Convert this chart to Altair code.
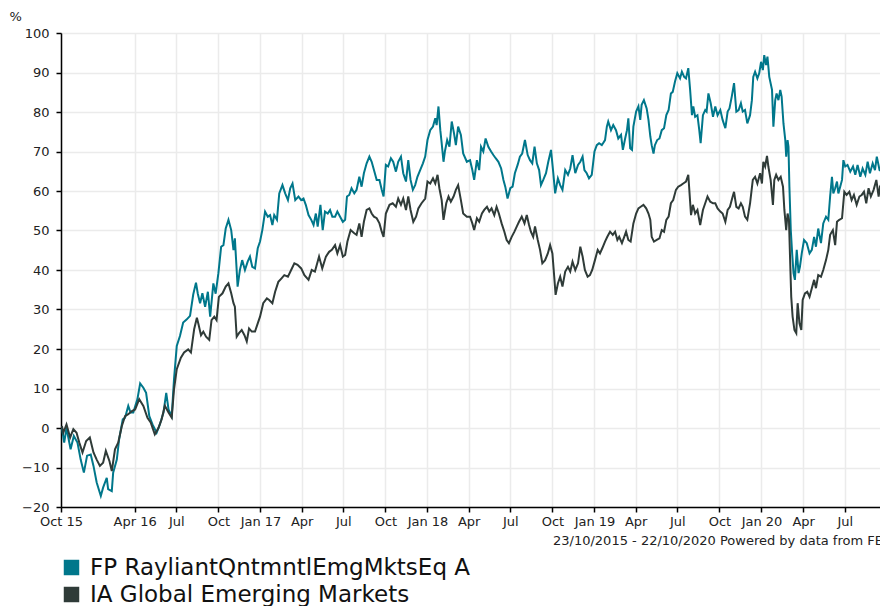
import altair as alt
import pandas as pd

START = "2015-10-23"
SERIES = ["FP RayliantQntmntlEmgMktsEq A", "IA Global Emerging Markets"]
COLORS = ["#00778B", "#2F3B38"]

# days since 23/10/2015 and cumulative % growth
fund_days = [
    2, 7, 12, 21, 28, 36, 43, 50, 57, 65, 71, 78, 87, 92, 100, 103, 111, 114, 122, 127,
    135, 140, 147, 152, 158, 167, 173, 180, 186, 193, 200, 209, 216, 224, 230, 235, 242, 247, 253, 260,
    267, 275, 282, 289, 295,
    299, 304, 309, 315, 321, 326, 333, 338, 344, 350, 355, 360, 366, 372, 377, 380, 386, 391, 396, 402,
    408, 413, 418, 424, 430, 435, 440, 446, 452, 457, 462, 466, 472, 477, 484, 490, 496, 501, 506, 512,
    519, 525, 530, 535, 541, 547, 552, 557, 561, 567, 572, 577, 583, 588, 593,
    599, 604, 610, 616, 621, 625, 630, 635, 641, 646, 652, 657, 662, 668, 674, 679, 684, 690, 696, 701,
    705, 710, 715, 721, 726, 732, 737, 743, 748, 754, 759, 764, 769, 774, 779, 785, 791, 796, 801, 807,
    813, 818, 821, 825, 829, 832, 836, 839, 844, 849, 854, 859, 863, 868, 874, 879, 887,
    894, 899, 903, 909, 914, 918, 923, 928, 934, 940, 945, 950, 956, 962, 967, 971, 976, 982, 987, 992,
    998, 1003, 1008, 1014, 1020, 1025, 1030, 1035, 1040, 1045, 1049, 1054, 1060, 1065, 1071, 1076, 1080,
    1086, 1091, 1096, 1102, 1108, 1113, 1118, 1124, 1130, 1135, 1140, 1144, 1149, 1154, 1160, 1166, 1171,
    1176, 1182,
    1189, 1193, 1196, 1202, 1207, 1213, 1218, 1224, 1228, 1233, 1237, 1240, 1244, 1248, 1251, 1257, 1262,
    1266, 1269, 1274, 1280, 1284, 1288, 1291, 1295, 1298, 1303, 1308, 1313, 1318, 1323, 1328, 1333, 1337,
    1342, 1347, 1353, 1357, 1362, 1366, 1371, 1375, 1379, 1382, 1386, 1391, 1395, 1398, 1403, 1408, 1411,
    1415, 1420, 1425, 1430, 1435, 1441, 1446, 1452, 1457, 1461, 1466, 1471, 1476, 1481, 1486,
    1490, 1495, 1500, 1506, 1510, 1513, 1517, 1522, 1526, 1530, 1534, 1537, 1541, 1544, 1548, 1554, 1557,
    1561, 1564, 1568, 1572, 1575, 1579, 1583, 1585, 1588, 1590, 1592, 1595, 1598, 1601, 1604, 1608, 1612,
    1615, 1619, 1624, 1630, 1636, 1641, 1646, 1650, 1655, 1661, 1666, 1672, 1677, 1681, 1685, 1688, 1692,
    1696, 1699, 1703, 1707, 1710, 1714, 1719, 1725, 1731, 1736, 1741, 1747, 1752, 1758, 1763, 1768, 1774,
    1779, 1783, 1789, 1794, 1799, 1803, 1808, 1815, 1826,
]
fund_vals = [
    0, -3.7, 0, -5.4, -2, -3.7, -8, -11.3, -7, -6.7, -9.6, -13.8, -17.2, -15.1, -12.6, -15.5, -16, -11.3, -8, -2.9,
    2.2, 2.6, 5.6, 3.9, 3.9, 7.3, 11.3, 10.2, 8.9, 3, 0.9, -1.2, 0.9, 3.9, 8.9, 4.7, 3, 12.3, 20.8, 23.3,
    26.7, 27.5, 28.4, 33.8, 36.8,
    34, 31.6, 34.1, 30.7, 34.5, 28.2, 36.6, 34, 39.2, 45.9, 46.3, 50.5, 52.7, 50.1, 45, 48, 35.8, 40, 42.5, 40,
    42.1, 43.4, 40.8, 40.4, 45.5, 47.2, 50.1, 54.8, 53.5, 53.9, 51.4, 53.9, 52.7, 59.4, 61.5, 59.4, 57.7, 60.7, 61.9, 57.7,
    58.6, 57.7, 58.1, 56.5, 53.9, 52.7, 51.4, 54.3, 51, 56.5, 50.1, 54.8, 54.3, 55.2, 53.5,
    53.5, 54.8, 53.5, 52.2, 52.7, 58.6, 59, 60.7, 59.4, 60.3, 63.6, 61.1, 64.5, 67, 68.7, 67.4, 65.3, 62.8, 62.8, 60.3,
    58.6, 66.6, 66.2, 68.3, 67.4, 64.9, 67.4, 68.7, 64.5, 62.4, 67.8, 62.8, 60.3, 61.5, 63.6, 65.3, 67, 68.7, 72.9, 75.4,
    76.3, 78.4, 76.7, 81.4, 75.4, 72.1, 67.4, 70, 72.9, 71.2, 77.6, 74.6, 71.6, 76.3, 74.2, 69.5, 67.4,
    67.8, 65.3, 62.8, 67.8, 65.3, 71.2, 70, 73.3, 71.2, 70, 69.1, 68.3, 67.4, 65.7, 62.8, 61.1, 58.1, 60.7, 61.1, 64.5,
    66.6, 68.7, 69.5, 72.9, 69.1, 67.8, 67, 71.2, 67, 65.3, 61.5, 62.8, 64.5, 67.4, 70.4, 64.5, 59.4,
    63.2, 61.5, 60.3, 65.3, 64.1, 65.7, 69.1, 64.5, 66.6, 67.4, 68.7, 65.3, 64.5, 63.2, 64.1, 70, 71.6,
    72.1, 71.6,
    72.9, 76.3, 77.6, 75.4, 76.7, 75.4, 73.3, 74.2, 70.4, 73.3, 75.4, 78.4, 70.8, 70.4, 76.3, 80.1, 81.4,
    78, 81.8, 83, 80.9, 78, 73.8, 71.6, 69.5, 71.6, 72.9, 73.3, 75.4, 75.9, 79.2, 80.5, 84.7, 85.1,
    87.7, 89.8, 88.5, 90.2, 88.9, 88.5, 91.1, 85.6, 79.2, 81.4, 78.8, 79.2, 75.4, 72.1, 79.2, 80.5, 80.1,
    84.7, 82.2, 78.8, 81.4, 79.2, 80.5, 78, 75.9, 80.1, 80.9, 83.9, 87.3, 80.1, 80.5, 82.2,
    80.1, 80.5, 77.1, 79.2, 83, 88.9, 90.2, 88.5, 89.8, 92.7, 90.6, 94.4, 91.9, 94, 88.9, 85.6, 76.3,
    83, 84.7, 83, 85.6, 83.9, 77.1, 72.9, 68.7, 72.9, 71.2, 61.1, 50.1, 44.2, 39.2, 37.5, 45.1, 39.2,
    40.8, 44.2, 47.6, 46.8, 44.2, 45.1, 48.4, 45.9, 50.5, 46.8, 51.8, 53.5, 52.7, 58.6, 63.6, 59.4, 60.7,
    62.4, 59.4, 61.1, 62.8, 67.8, 66.2, 66.6, 64.9, 66.2, 64.1, 66.6, 63.6, 65.7, 64.1, 67.4, 64.5, 67,
    65.3, 68.7, 65.3, 64.9, 66.2, 67, 69.1, 67.5, 68.5,
]

sector_days = [
    2, 5, 12, 20, 27, 34, 40, 47, 55, 63, 71, 78, 85, 92, 98, 106, 111, 118, 125, 133,
    140, 147, 155, 162, 171, 180, 189, 196, 205, 213, 220, 227, 235, 242, 247, 253, 262, 269, 278, 284,
    291, 297,
    300, 306, 311, 317, 324, 329, 335, 340, 345, 353, 360, 366, 372, 377, 380, 384, 389, 395, 401, 406,
    411, 417, 424, 430, 435, 442, 450, 455, 462, 468, 475, 482, 488, 496, 503, 510, 517, 525, 532, 541,
    548, 555, 564, 571, 579, 586, 592,
    599, 604, 610, 616, 621, 626, 633, 641, 646, 652, 657, 662, 668, 674, 679, 684, 690, 696, 701, 705,
    710, 718, 725, 732, 737, 743, 748, 754, 759, 764, 770, 776, 781, 788, 796, 801, 807, 813, 818, 823,
    827, 832, 836, 842, 847, 852, 858, 863, 868, 874, 879, 887,
    894, 899, 903, 909, 914, 920, 925, 931, 936, 941, 947, 952, 957, 963, 969, 974, 979, 985, 991, 996,
    1001, 1007, 1013, 1018, 1023, 1027, 1032, 1036, 1042, 1047, 1052, 1058, 1064, 1069, 1074, 1078, 1081,
    1086, 1091, 1096, 1102, 1108, 1113, 1118, 1124, 1130, 1135, 1140, 1145, 1151, 1156, 1161, 1167, 1173,
    1178, 1183,
    1189, 1194, 1200, 1206, 1211, 1216, 1220, 1226, 1231, 1235, 1240, 1245, 1251, 1257, 1262, 1267, 1273,
    1279, 1284, 1288, 1291, 1296, 1302, 1308, 1313, 1318, 1323, 1328, 1333, 1338, 1344, 1349, 1355, 1360,
    1366, 1371, 1377, 1381, 1386, 1391, 1397, 1403, 1408, 1413, 1419, 1425, 1430, 1435, 1441, 1446, 1452,
    1457, 1462, 1468, 1471, 1476, 1481, 1486,
    1490, 1495, 1500, 1506, 1512, 1517, 1522, 1528, 1532, 1535, 1539, 1543, 1546, 1551, 1556, 1559, 1563,
    1568, 1573, 1578, 1581, 1585, 1588, 1591, 1594, 1596, 1599, 1603, 1607, 1610, 1614, 1618, 1621, 1626,
    1631, 1636, 1641, 1646, 1650, 1655, 1661, 1666, 1672, 1677, 1681, 1687, 1692, 1696, 1701, 1707, 1712,
    1717, 1723, 1728, 1733, 1739, 1745, 1750, 1755, 1760, 1765, 1770, 1776, 1782, 1787, 1790, 1796, 1801,
    1806, 1815, 1826,
]
sector_vals = [
    0.5, -1.2, 0.9, -2.4, -0.3, -1.2, -3.7, -6.2, -3.3, -2.4, -6.2, -8, -9.6, -8.8, -5.8, -8.4, -10.9, -5.4, -3.7, 0.5,
    3, 3.5, 4.3, 4.7, 7.3, 5.6, 2.6, 1.4, -1.6, 0, 2.2, 5.6, 3.9, 2.6, 9.8, 14.9, 17.8, 19.1, 19.9, 19.1,
    25, 27.9,
    26.5, 23.5, 24.4, 23.1, 22.3, 27.3, 28.2, 27.3, 33.2, 34.1, 35.8, 36.6, 34.1, 31.6, 30.7, 23.1, 24, 24.8, 23.5, 21.9,
    25.2, 24.4, 24.4, 26.5, 28.2, 31.6, 32.8, 32.4, 31.6, 34.5, 37, 37.9, 38.7, 38.3, 40, 41.7, 41.3, 40.4, 38.7, 37.5,
    40, 39.6, 43.4, 40.4, 43.4, 44.6, 45.1,
    46.3, 44.2, 46.3, 43.4, 43.8, 47.2, 50.1, 49.3, 48.9, 51.8, 48.4, 52.2, 55.2, 55.6, 54.3, 53.5, 53.1, 51.8, 49.7, 48.4,
    54.3, 56.5, 56.9, 56, 58.1, 56.5, 58.1, 55.2, 58.6, 55.2, 52.2, 53.5, 55.6, 56.9, 58.1, 62.4, 61.9, 63.2, 61.9, 64.1,
    60.7, 57.7, 52.7, 56.9, 58.6, 57.3, 58.6, 60.3, 61.5, 57.7, 54.3, 53.5,
    53.5, 51.8, 50.1, 53.1, 52.2, 54.3, 55.2, 56, 54.8, 55.6, 53.9, 56, 54.3, 51.8, 49.7, 47.6, 46.8, 48.4, 49.7, 51,
    52.2, 53.5, 51.8, 53.9, 51.4, 49.7, 48.4, 51, 47.6, 45.1, 41.7, 42.5, 44.2, 46.3, 44.2, 38.3, 33.7,
    36.6, 38.3, 35.8, 39.6, 40.8, 39.6, 42.1, 40, 41.7, 45.9, 43.4, 40, 38.3, 38.7, 40, 42.5, 45.1,
    44.2, 45.5,
    47.2, 48.4, 49.7, 48.9, 49.7, 47.6, 48.4, 46.8, 48.4, 49.7, 47.6, 47.2, 51.8, 54.3, 55.6, 56, 56.5,
    55.6, 54.3, 52.7, 48.4, 47.2, 47.6, 48, 50.1, 49.7, 52.7, 53.5, 56.9, 57.7, 60.3, 61.1, 61.5, 61.9,
    62.4, 64.1, 53.9, 56.5, 54.3, 55.2, 51.4, 55.2, 56.9, 58.6, 57.3, 56.9, 56.9, 55.6, 54.8, 54.3, 52.2,
    55.2, 56, 58.6, 59.8, 56, 55.6, 56.9,
    56, 53.5, 52.7, 56.9, 62.8, 63.6, 61.9, 64.5, 61.9, 67.4, 66.2, 68.9, 66.2, 62.8, 56.5, 62.8, 64.1,
    62.8, 63.6, 61.1, 55.2, 50.1, 54.3, 52.7, 40.8, 33.2, 28.2, 24.8, 24, 31.6, 26.5, 24.8, 32.4, 34.1,
    34.5, 33.2, 35.4, 37.5, 35.4, 38.7, 38.3, 40, 42.5, 45.1, 48.9, 50.1, 46.3, 52.2, 52.7, 53.1, 59.8,
    59, 59.8, 57.7, 59, 56.5, 58.6, 59, 59.8, 56.9, 60.7, 58.6, 60.3, 62.8, 58.6, 61.1, 62.4, 64.5,
    65.7, 65, 66,
]

tick_dates = [
    (2015, 10, 23), (2016, 4, 1), (2016, 7, 1), (2016, 10, 1), (2017, 1, 1), (2017, 4, 1),
    (2017, 7, 1), (2017, 10, 1), (2018, 1, 1), (2018, 4, 1), (2018, 7, 1), (2018, 10, 1),
    (2019, 1, 1), (2019, 4, 1), (2019, 7, 1), (2019, 10, 1), (2020, 1, 1), (2020, 4, 1), (2020, 7, 1),
]
y_ticks = list(range(-20, 101, 10))
footer = ["23/10/2015 - 22/10/2020 Powered by data from FE"]

start = pd.Timestamp(START)
fund = pd.DataFrame({
    "date": start + pd.to_timedelta(fund_days, unit="D"),
    "value": fund_vals,
    "series": SERIES[0],
})
sector = pd.DataFrame({
    "date": start + pd.to_timedelta(sector_days, unit="D"),
    "value": sector_vals,
    "series": SERIES[1],
})

FONT = "DejaVu Sans"
TXT = "#222222"

x_enc = alt.X(
    "date:T",
    scale=alt.Scale(domain=[alt.DateTime(year=2015, month=10, date=23),
                            alt.DateTime(year=2020, month=9, date=16)]),
    axis=alt.Axis(
        title=None,
        values=[alt.DateTime(year=y, month=m, date=d) for y, m, d in tick_dates],
        labelExpr="(month(datum.value) == 0 || datum.value < datetime(2016, 4, 15)) ? timeFormat(datum.value, '%b %y') : timeFormat(datum.value, '%b')",
        labelFont=FONT, labelFontSize=13, labelColor=TXT,
        labelOverlap=False, labelFlush=False, labelPadding=3,
        tickSize=5, tickColor="#000000", tickWidth=1.5,
        domainColor="#000000", domainWidth=1.5,
        grid=True, gridColor="#ebebeb", gridWidth=1.5,
    ),
)
y_enc = alt.Y(
    "value:Q",
    scale=alt.Scale(domain=[-20, 100], nice=False, zero=False),
    axis=alt.Axis(
        title="%", titleAngle=0, titleX=-52, titleY=-10, titleAlign="left",
        titleFont=FONT, titleFontSize=13, titleFontWeight="normal", titleColor=TXT,
        values=y_ticks,
        labelFont=FONT, labelFontSize=13, labelColor=TXT, labelPadding=7,
        tickSize=5, tickColor="#000000", tickWidth=1.5,
        domainColor="#000000", domainWidth=1.5,
        grid=True, gridColor="#ebebeb", gridWidth=1.5,
    ),
)
color_enc = alt.Color(
    "series:N",
    scale=alt.Scale(domain=SERIES, range=COLORS),
    legend=alt.Legend(
        title=None, orient="none", legendX=-1, legendY=521, padding=0,
        symbolType="square", symbolSize=56, symbolStrokeWidth=8, symbolOpacity=1,
        labelFont=FONT, labelFontSize=23, labelColor="#111111", labelLimit=700,
        labelOffset=7, rowPadding=0, clipHeight=27,
    ),
)

fund_line = alt.Chart(fund).mark_line(strokeWidth=2, clip=True).encode(x=x_enc, y=y_enc, color=color_enc)
sector_line = alt.Chart(sector).mark_line(strokeWidth=2, clip=True).encode(x=x_enc, y=y_enc, color=color_enc)

footer_text = alt.Chart(pd.DataFrame({"t": footer})).mark_text(
    align="left", baseline="middle", font=FONT, fontSize=13, color=TXT
).encode(x=alt.value(492), y=alt.value(508), text="t:N")

chart = alt.layer(fund_line, sector_line, footer_text).properties(
    width=819, height=474,
    autosize=alt.AutoSizeParams(type="none"),
    padding={"left": 53, "top": 25, "right": 0, "bottom": 100},
).configure_view(strokeWidth=0).configure(background="white")

chart.save("out.html", embed_options={"renderer": "svg", "actions": False})
